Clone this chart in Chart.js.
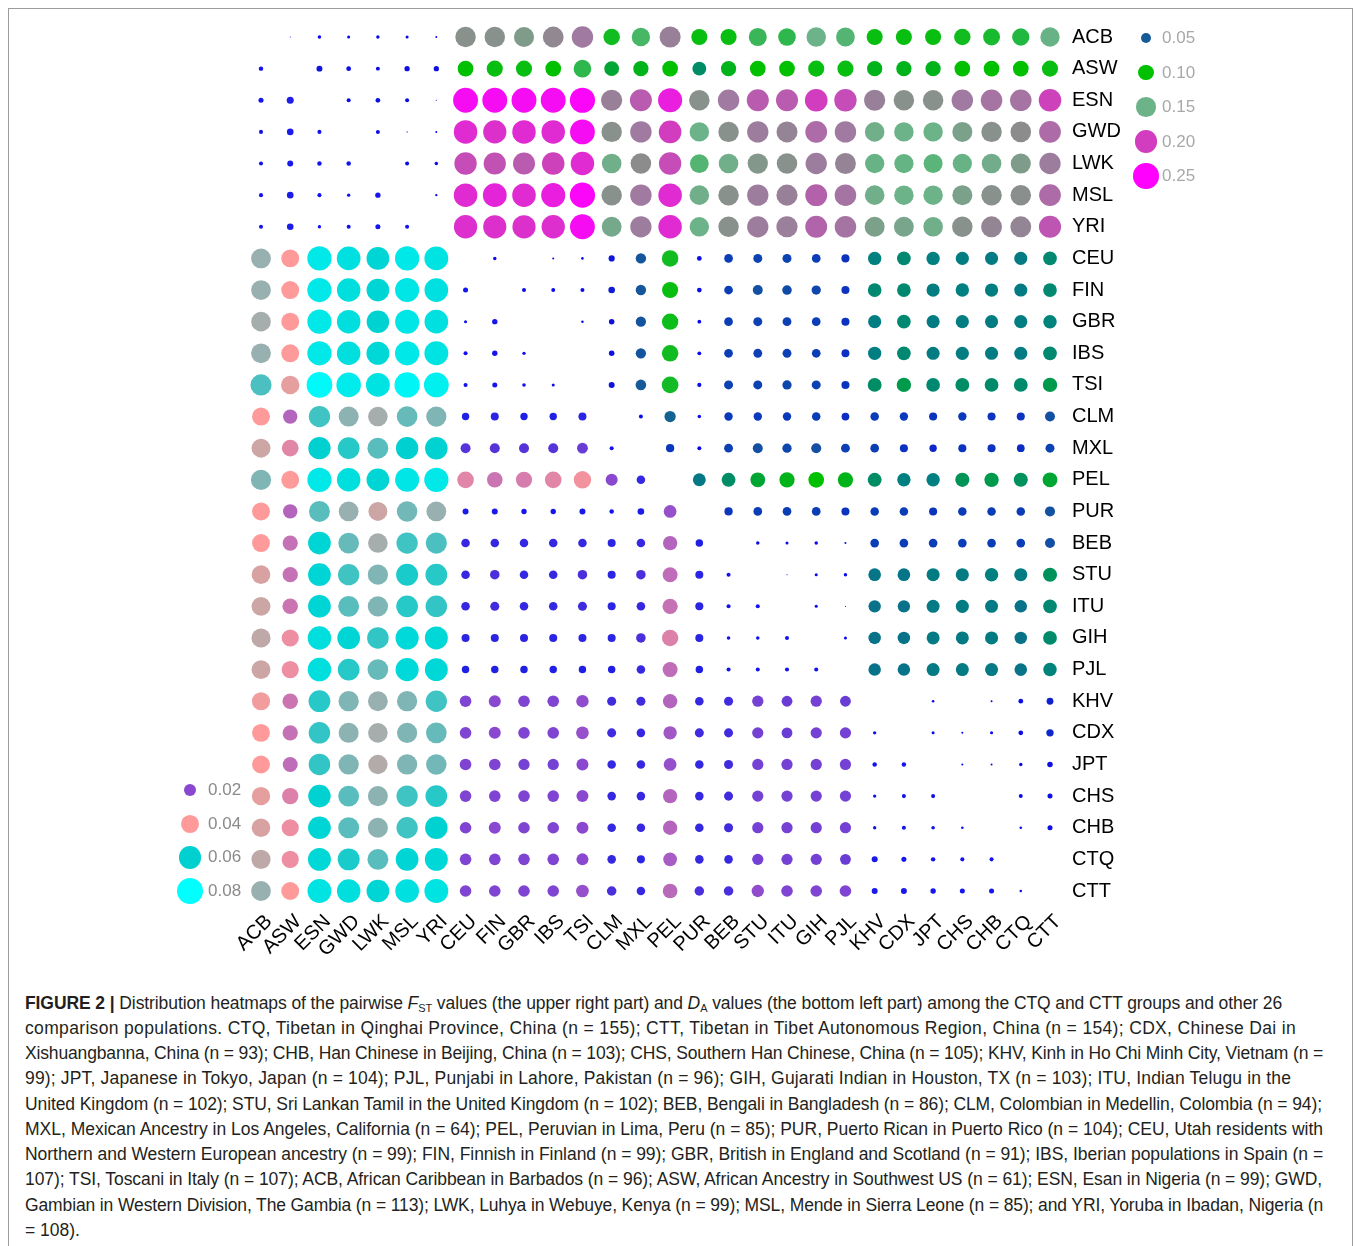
<!DOCTYPE html>
<html><head><meta charset="utf-8">
<script src="https://cdn.jsdelivr.net/npm/chart.js@4.4.1/dist/chart.umd.min.js"></script>
<style>
html,body{margin:0;padding:0;background:#fff;}
body{width:1355px;height:1246px;position:relative;overflow:hidden;font-family:"Liberation Sans",Arial,sans-serif;}
#frame{position:absolute;left:8px;top:8px;width:1345px;height:1300px;border:1px solid #9c9c9c;box-sizing:border-box;}
#wrap{position:absolute;left:0;top:0;width:1355px;height:975px;}
.dot{position:absolute;border-radius:50%;}
.lab{position:absolute;font-size:17px;line-height:20px;}
.cap{position:absolute;left:25px;font-size:17.5px;color:#231f20;white-space:nowrap;line-height:22px;}
.cap sub{font-size:11px;vertical-align:-3px;line-height:0;}
</style></head>
<body>
<div id="frame"></div>
<div id="wrap"><canvas id="c" width="1355" height="975"></canvas></div>
<div id="legends"></div>
<div id="caption">
<div class="cap" data-w="1257" style="top:992px"><b>FIGURE 2 |</b> Distribution heatmaps of the pairwise <i>F</i><sub>ST</sub> values (the upper right part) and <i>D</i><sub>A</sub> values (the bottom left part) among the CTQ and CTT groups and other 26</div>
<div class="cap" data-w="1271" style="top:1017px">comparison populations. CTQ, Tibetan in Qinghai Province, China (n = 155); CTT, Tibetan in Tibet Autonomous Region, China (n = 154); CDX, Chinese Dai in</div>
<div class="cap" data-w="1298" style="top:1042px">Xishuangbanna, China (n = 93); CHB, Han Chinese in Beijing, China (n = 103); CHS, Southern Han Chinese, China (n = 105); KHV, Kinh in Ho Chi Minh City, Vietnam (n =</div>
<div class="cap" data-w="1266" style="top:1067px">99); JPT, Japanese in Tokyo, Japan (n = 104); PJL, Punjabi in Lahore, Pakistan (n = 96); GIH, Gujarati Indian in Houston, TX (n = 103); ITU, Indian Telugu in the</div>
<div class="cap" data-w="1297" style="top:1093px">United Kingdom (n = 102); STU, Sri Lankan Tamil in the United Kingdom (n = 102); BEB, Bengali in Bangladesh (n = 86); CLM, Colombian in Medellin, Colombia (n = 94);</div>
<div class="cap" data-w="1298" style="top:1118px">MXL, Mexican Ancestry in Los Angeles, California (n = 64); PEL, Peruvian in Lima, Peru (n = 85); PUR, Puerto Rican in Puerto Rico (n = 104); CEU, Utah residents with</div>
<div class="cap" data-w="1298" style="top:1143px">Northern and Western European ancestry (n = 99); FIN, Finnish in Finland (n = 99); GBR, British in England and Scotland (n = 91); IBS, Iberian populations in Spain (n =</div>
<div class="cap" data-w="1297" style="top:1168px">107); TSI, Toscani in Italy (n = 107); ACB, African Caribbean in Barbados (n = 96); ASW, African Ancestry in Southwest US (n = 61); ESN, Esan in Nigeria (n = 99); GWD,</div>
<div class="cap" data-w="1298" style="top:1194px">Gambian in Western Division, The Gambia (n = 113); LWK, Luhya in Webuye, Kenya (n = 99); MSL, Mende in Sierra Leone (n = 85); and YRI, Yoruba in Ibadan, Nigeria (n</div>
<div class="cap" style="top:1219px">= 108).</div>
</div>
<script>
// ---- categories ----
const pops = ['ACB','ASW','ESN','GWD','LWK','MSL','YRI','CEU','FIN','GBR','IBS','TSI','CLM','MXL','PEL','PUR','BEB','STU','ITU','GIH','PJL','KHV','CDX','JPT','CHS','CHB','CTQ','CTT'];

// ---- FST (upper right): row i lists values for columns i+1 .. 27 ----
const fstRows = [
 [0.008,0.012,0.011,0.012,0.011,0.009, 0.165,0.165,0.16,0.17,0.18, 0.11,0.135,0.175,0.105,0.105,0.13,0.125,0.15,0.14,0.105,0.105,0.105,0.11,0.115,0.12,0.148],
 [0.021,0.016,0.0135,0.018,0.018, 0.1,0.105,0.105,0.1,0.125, 0.09,0.095,0.1,0.08,0.095,0.1,0.1,0.105,0.105,0.095,0.095,0.095,0.1,0.1,0.1,0.105],
 [0.0135,0.016,0.0135,0.008, 0.24,0.24,0.24,0.24,0.245, 0.175,0.19,0.225,0.165,0.18,0.19,0.19,0.2,0.195,0.175,0.165,0.165,0.18,0.182,0.182,0.198],
 [0.0135,0.008,0.009, 0.215,0.21,0.215,0.215,0.24, 0.165,0.18,0.2,0.15,0.165,0.178,0.173,0.185,0.18,0.152,0.15,0.15,0.158,0.165,0.167,0.185],
 [0.0135,0.012, 0.195,0.193,0.19,0.198,0.215, 0.152,0.167,0.195,0.14,0.152,0.162,0.165,0.178,0.173,0.148,0.147,0.143,0.148,0.153,0.16,0.178],
 [0.0095, 0.215,0.22,0.215,0.225,0.245, 0.165,0.18,0.215,0.152,0.165,0.178,0.175,0.188,0.182,0.152,0.15,0.15,0.158,0.165,0.166,0.185],
 [0.212,0.21,0.21,0.212,0.24, 0.155,0.178,0.215,0.15,0.165,0.178,0.176,0.187,0.182,0.158,0.156,0.152,0.165,0.172,0.172,0.192],
 [0.012,0.002,0.009,0.01, 0.022,0.048,0.11,0.016,0.036,0.038,0.038,0.036,0.032,0.075,0.078,0.075,0.073,0.072,0.072,0.078],
 [0.0135,0.0135,0.0135, 0.024,0.048,0.105,0.016,0.036,0.045,0.042,0.04,0.032,0.078,0.078,0.073,0.075,0.073,0.072,0.078],
 [0.003,0.01, 0.019,0.047,0.108,0.013,0.036,0.038,0.037,0.036,0.032,0.073,0.078,0.072,0.073,0.072,0.073,0.076],
 [0.003, 0.019,0.047,0.11,0.013,0.036,0.037,0.037,0.036,0.031,0.074,0.078,0.072,0.073,0.072,0.072,0.078],
 [0.021,0.05,0.112,0.014,0.038,0.038,0.04,0.038,0.032,0.08,0.085,0.078,0.08,0.079,0.079,0.085],
 [0.0135,0.055,0.012,0.034,0.034,0.034,0.035,0.03,0.035,0.034,0.032,0.034,0.032,0.032,0.045],
 [0.033,0.0135,0.037,0.045,0.04,0.045,0.037,0.036,0.032,0.028,0.032,0.032,0.03,0.038],
 [0.07,0.08,0.09,0.095,0.1,0.095,0.08,0.075,0.075,0.083,0.085,0.082,0.09],
 [0.033,0.036,0.036,0.036,0.032,0.035,0.035,0.032,0.035,0.035,0.035,0.046],
 [0.012,0.011,0.012,0.009,0.036,0.036,0.036,0.036,0.036,0.036,0.045],
 [0.008,0.011,0.012,0.068,0.068,0.072,0.072,0.075,0.072,0.082],
 [0.011,0.008,0.065,0.065,0.071,0.072,0.071,0.066,0.078],
 [0.011,0.066,0.066,0.071,0.071,0.072,0.066,0.079],
 [0.066,0.066,0.071,0.071,0.071,0.067,0.076],
 [0.007,0.010,0.004,0.009,0.016,0.025],
 [0.011,0.009,0.011,0.016,0.028],
 [0.009,0.009,0.012,0.019],
 [0.003,0.0135,0.017],
 [0.01,0.017],
 [0.007],
 []
];

// ---- DA (bottom left): row i lists values for columns 0 .. i-1 ----
const daRows = [
 [],
 [0.006],
 [0.0066,0.0093],
 [0.0056,0.0087,0.0056],
 [0.0056,0.0078,0.006,0.006],
 [0.0056,0.0087,0.0056,0.005,0.007],
 [0.0056,0.0087,0.005,0.0056,0.0066,0.0056],
 [0.048,0.04,0.07,0.067,0.062,0.07,0.068],
 [0.048,0.04,0.07,0.066,0.062,0.069,0.067,0.0066],
 [0.047,0.04,0.07,0.066,0.061,0.069,0.067,0.0048,0.007],
 [0.048,0.04,0.07,0.066,0.063,0.07,0.068,0.0056,0.007,0.005],
 [0.054,0.042,0.078,0.072,0.068,0.076,0.073,0.0056,0.0066,0.0052,0.0048],
 [0.04,0.027,0.055,0.049,0.047,0.052,0.05,0.0099,0.011,0.0099,0.0099,0.011],
 [0.044,0.035,0.06,0.057,0.053,0.06,0.061,0.015,0.015,0.015,0.015,0.017,0.0056],
 [0.05,0.04,0.07,0.066,0.062,0.069,0.07,0.035,0.031,0.033,0.035,0.038,0.02,0.012],
 [0.04,0.027,0.053,0.048,0.044,0.051,0.048,0.0078,0.0078,0.007,0.007,0.0078,0.006,0.0087,0.022],
 [0.04,0.03,0.062,0.052,0.047,0.055,0.054,0.012,0.012,0.012,0.012,0.012,0.011,0.012,0.027,0.01],
 [0.043,0.03,0.062,0.055,0.05,0.058,0.057,0.012,0.014,0.012,0.012,0.014,0.011,0.014,0.029,0.011,0.0056],
 [0.044,0.031,0.062,0.053,0.05,0.057,0.056,0.012,0.013,0.012,0.012,0.013,0.011,0.012,0.03,0.011,0.0056,0.0056],
 [0.045,0.037,0.066,0.062,0.056,0.064,0.063,0.011,0.011,0.011,0.011,0.011,0.011,0.014,0.034,0.011,0.0052,0.0052,0.0056],
 [0.044,0.037,0.066,0.057,0.052,0.064,0.063,0.01,0.01,0.01,0.01,0.01,0.01,0.012,0.029,0.01,0.0056,0.0056,0.0056,0.0056],
 [0.041,0.031,0.057,0.05,0.048,0.05,0.055,0.019,0.02,0.019,0.019,0.021,0.013,0.013,0.027,0.012,0.013,0.018,0.017,0.018,0.017],
 [0.04,0.03,0.056,0.049,0.047,0.05,0.052,0.019,0.02,0.019,0.019,0.022,0.013,0.012,0.024,0.013,0.013,0.018,0.017,0.018,0.018,0.005],
 [0.04,0.029,0.056,0.05,0.046,0.05,0.051,0.019,0.019,0.018,0.018,0.02,0.012,0.012,0.022,0.012,0.013,0.018,0.018,0.018,0.018,0.006,0.006],
 [0.042,0.034,0.061,0.053,0.049,0.055,0.057,0.019,0.019,0.019,0.019,0.02,0.012,0.012,0.027,0.012,0.013,0.018,0.018,0.018,0.018,0.005,0.0056,0.0056],
 [0.043,0.037,0.062,0.053,0.049,0.055,0.061,0.019,0.02,0.019,0.019,0.02,0.012,0.012,0.027,0.012,0.013,0.018,0.018,0.018,0.018,0.005,0.0056,0.0052,0.0045],
 [0.045,0.037,0.063,0.058,0.053,0.062,0.063,0.019,0.019,0.019,0.019,0.02,0.012,0.011,0.025,0.012,0.012,0.018,0.018,0.018,0.017,0.0078,0.0066,0.006,0.0056,0.0056],
 [0.048,0.04,0.068,0.066,0.062,0.067,0.068,0.019,0.019,0.019,0.019,0.022,0.014,0.012,0.028,0.014,0.014,0.021,0.019,0.019,0.019,0.0078,0.0078,0.007,0.0066,0.0066,0.0045]
];

// ---- legend breaks ----
const fstLegend = [0.05, 0.10, 0.15, 0.20, 0.25];
const daLegend = [0.02, 0.04, 0.06, 0.08];

// ---- colour / size mapping ----
const fstStops = [[0,'#0000ff'],[0.02,'#1010e0'],[0.035,'#0a3cb8'],[0.05,'#175a98'],[0.075,'#008080'],[0.10,'#00c000'],[0.12,'#20b840'],[0.15,'#6db38a'],[0.167,'#8c8c8c'],[0.18,'#a07aa0'],[0.20,'#d23cbe'],[0.25,'#ff00ff']];
const daStops = [[0,'#0000ff'],[0.01,'#2020e4'],[0.02,'#8a48d0'],[0.04,'#ff9a9a'],[0.06,'#00d0d0'],[0.08,'#00ffff']];
function hex(h){return [1,3,5].map(k=>parseInt(h.substr(k,2),16));}
function interp(stops,v){
  if(v<=stops[0][0]) return stops[0][1];
  for(let k=1;k<stops.length;k++){
    if(v<=stops[k][0]){
      const a=stops[k-1],b=stops[k],t=(v-a[0])/(b[0]-a[0]);
      const ca=hex(a[1]),cb=hex(b[1]);
      return 'rgb('+ca.map((c,q)=>Math.round(c+(cb[q]-c)*t)).join(',')+')';
    }
  }
  return stops[stops.length-1][1];
}
const colFst=v=>interp(fstStops,v), colDa=v=>interp(daStops,v);
const rFst=v=>Math.sqrt(Math.max(0,665*v-5));
const rDa=v=>Math.sqrt(Math.max(0,2217*v-8.3));

const fstPts=[],daPts=[];
fstRows.forEach((row,i)=>row.forEach((v,k)=>fstPts.push({x:pops[i+1+k],y:pops[i],v})));
daRows.forEach((row,i)=>row.forEach((v,j)=>daPts.push({x:pops[j],y:pops[i],v})));

const FONT='"Liberation Sans", Arial, sans-serif';
new Chart(document.getElementById('c'),{
  type:'bubble',
  data:{datasets:[
    {label:'FST',data:fstPts,backgroundColor:c=>c.raw?colFst(c.raw.v):'#000',radius:c=>c.raw?rFst(c.raw.v):0,borderWidth:0,hoverRadius:0,hoverBorderWidth:0,clip:false},
    {label:'DA',data:daPts,backgroundColor:c=>c.raw?colDa(c.raw.v):'#000',radius:c=>c.raw?rDa(c.raw.v):0,borderWidth:0,hoverRadius:0,hoverBorderWidth:0,clip:false}
  ]},
  options:{
    responsive:false,animation:false,devicePixelRatio:1,
    layout:{padding:{left:261,top:37,right:0,bottom:0}},
    plugins:{legend:{display:false},tooltip:{enabled:false}},
    events:[],
    scales:{
      x:{type:'category',labels:pops,offset:false,
         grid:{display:false,drawTicks:false},border:{display:false},
         ticks:{autoSkip:false,minRotation:45,maxRotation:45,color:'#000',font:{family:FONT,size:20},padding:19,labelOffset:8},
         afterFit(s){s.height=84;}},
      y:{type:'category',labels:pops,position:'right',offset:false,
         grid:{display:false,drawTicks:false},border:{display:false},
         ticks:{autoSkip:false,color:'#000',font:{family:FONT,size:20},padding:22},
         afterFit(s){s.width=305;}}
    }
  }
});

// ---- legends (HTML) ----
const L=document.getElementById('legends');
function addLeg(list,cx,y0,dy,col,rad,txtCol,lx){
  list.forEach((v,k)=>{
    const cy=y0+k*dy, r=rad(v);
    const d=document.createElement('div');d.className='dot';
    d.style.cssText=`left:${cx-r}px;top:${cy-r}px;width:${2*r}px;height:${2*r}px;background:${col(v)}`;
    L.appendChild(d);
    const t=document.createElement('div');t.className='lab';t.textContent=v.toFixed(2);
    t.style.cssText=`left:${lx}px;top:${cy-10}px;color:${txtCol}`;
    L.appendChild(t);
  });
}
addLeg(fstLegend,1146,38,34.5,colFst,rFst,'#a8a8a8',1162);
addLeg(daLegend,190,790,33.7,colDa,rDa,'#8a8a8a',208);

// ---- fit caption lines to reference widths ----
document.querySelectorAll('.cap[data-w]').forEach(el=>{
  const target=+el.dataset.w, w=el.getBoundingClientRect().width, n=el.textContent.length;
  el.style.letterSpacing=((target-w)/n).toFixed(3)+'px';
});
</script>
</body></html>
